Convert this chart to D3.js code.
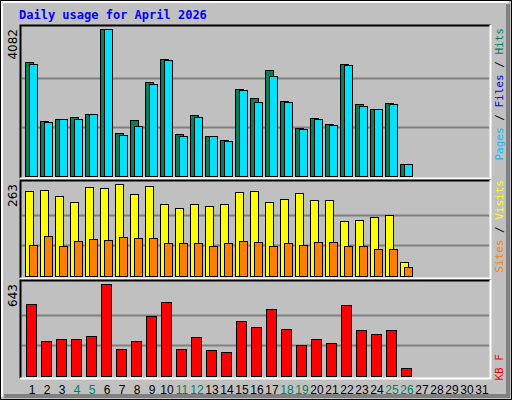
<!DOCTYPE html>
<html><head><meta charset="utf-8">
<script src="https://cdn.jsdelivr.net/npm/d3@7"></script>
<style>body{margin:0;background:#fff}</style>
</head><body><div id="chart"></div>
<script>
const days = d3.range(1, 32);
const weekend = [4, 5, 11, 12, 18, 19, 25, 26];
const hits = [3166,1527,1583,1638,1722,4082,1194,1555,2610,3249,1166,1694,1111,1000,2416,2166,2943,2083,1333,1611,1444,3110,2000,1860,2027,333];
const files = [3110,1500,1583,1583,1722,4082,1139,1389,2555,3221,1111,1638,1111,972,2388,2055,2777,2055,1305,1583,1416,3082,1944,1860,2000,333];
const visits = [243,246,229,212,254,252,263,234,257,206,194,206,200,206,240,243,212,220,237,217,217,157,160,169,174,40];
const sites = [89,114,86,100,106,103,112,109,109,94,94,94,86,94,100,97,86,94,89,97,97,86,86,77,77,26];
const kbytes = [502,242,256,256,277,643,186,242,418,516,186,270,179,165,383,340,467,326,214,256,228,495,319,291,319,59];

const W = 512, H = 400;
const svg = d3.select("#chart").append("svg").attr("width", W).attr("height", H);

// frame
svg.append("rect").attr("width", W).attr("height", H).attr("fill", "#c0c0c0");
svg.append("rect").attr("x", 0.5).attr("y", 0.5).attr("width", W - 1).attr("height", H - 1)
  .attr("fill", "none").attr("stroke", "#000");
svg.append("path").attr("d", "M2,397V2H509").attr("fill", "none").attr("stroke", "#fff").attr("stroke-width", 2);
svg.append("path").attr("d", "M508,4V396H4").attr("fill", "none").attr("stroke", "#808080").attr("stroke-width", 4);

svg.append("text").attr("x", 19).attr("y", 19)
  .style("font", "bold 12px 'DejaVu Sans Mono'").attr("fill", "#0000ff")
  .text("Daily usage for April 2026");

const x = d3.scaleLinear().domain([1, 31]).range([25, 475]);

function panel(top, bottom, max, series, label, labelY) {
  const y = d3.scaleLinear().domain([0, max]).range([bottom, top + 4]);
  const g = svg.append("g");
  g.append("rect").attr("x", 20).attr("y", top).attr("width", 471).attr("height", bottom - top + 2)
    .attr("fill", "#c0c0c0");
  g.append("path").attr("d", `M20.5,${bottom + 2}V${top + 0.5}H490.5`).attr("fill", "none").attr("stroke", "#000").attr("stroke-width", 2);
  g.append("path").attr("d", `M490.5,${top}V${bottom + 2.5}H20`).attr("fill", "none").attr("stroke", "#fff").attr("stroke-width", 2);
  [max / 3, 2 * max / 3].forEach(v => {
    g.append("line").attr("x1", 22).attr("x2", 489)
      .attr("y1", Math.round(y(v)) + 0.5).attr("y2", Math.round(y(v)) + 0.5)
      .attr("stroke", "#808080").attr("stroke-width", 2);
  });
  series.forEach(s => {
    g.selectAll(null).data(s.values).enter().append("rect")
      .attr("x", (d, i) => x(i + 1) + s.dx + 0.5)
      .attr("y", d => Math.round(y(d)) + 0.5)
      .attr("width", s.w)
      .attr("height", d => bottom - Math.round(y(d)))
      .attr("fill", s.color).attr("stroke", "#000");
  });
  g.append("text").attr("transform", `translate(17,${top + 4}) rotate(-90)`)
    .attr("text-anchor", "end").style("font", "12px 'DejaVu Sans'").text(max);
  const t = g.append("text").attr("transform", `translate(503,${labelY}) rotate(-90)`)
    .attr("text-anchor", "end").style("font", "11px 'DejaVu Sans Mono'");
  label.forEach(p => t.append("tspan").attr("fill", p[1]).text(p[0]));
}

panel(25, 176, 4082, [
  { values: hits, color: "#00805c", dx: 0, w: 8 },
  { values: files, color: "#00e0ff", dx: 4, w: 8 }
], [["Pages", "#00c0ff"], [" / ", "#000"], ["Files", "#0000ff"], [" / ", "#000"], ["Hits", "#00805c"]], 28);

panel(180, 276, 263, [
  { values: visits, color: "#ffff00", dx: 0, w: 8 },
  { values: sites, color: "#ff8000", dx: 4, w: 8 }
], [["Sites", "#ff8000"], [" / ", "#000"], ["Visits", "#ffff00"]], 180);

panel(280, 376, 643, [
  { values: kbytes, color: "#ff0000", dx: 1, w: 10 }
], [["KB F", "#ff0000"]], 354);

svg.selectAll(".day").data(days).enter().append("text")
  .attr("x", d => x(d) + 7).attr("y", 394)
  .attr("text-anchor", "middle").style("font", "12px 'Liberation Sans'")
  .attr("fill", d => weekend.includes(d) ? "#00805c" : "#000")
  .text(d => d);
</script></body></html>
